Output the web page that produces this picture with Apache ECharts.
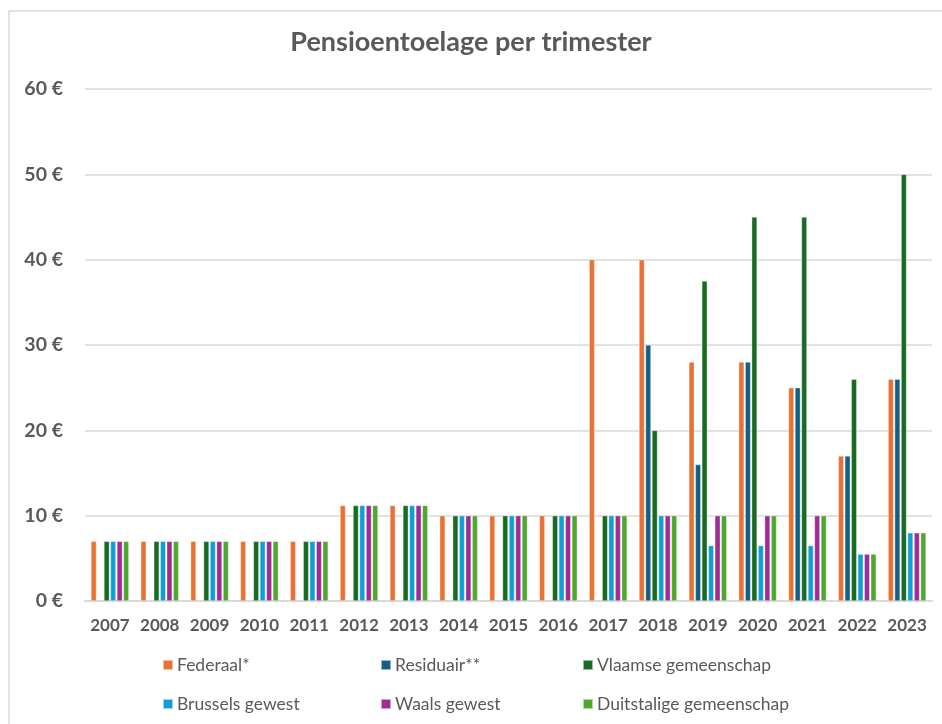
<!DOCTYPE html>
<html>
<head>
<meta charset="utf-8">
<script src="https://cdn.jsdelivr.net/npm/echarts@6/dist/echarts.min.js"></script>
<style>
  html, body { margin: 0; padding: 0; background: #fff; }
  #chart { width: 942px; height: 724px; }
</style>
</head>
<body>
<div id="chart"></div>
<script>
const years = ['2007','2008','2009','2010','2011','2012','2013','2014','2015','2016','2017','2018','2019','2020','2021','2022','2023'];
const federaal   = [7, 7, 7, 7, 7, 11.2, 11.2, 10, 10, 10, 40, 40, 28, 28, 25, 17, 26];
const residuair  = [null, null, null, null, null, null, null, null, null, null, null, 30, 16, 28, 25, 17, 26];
const vlaamse    = [7, 7, 7, 7, 7, 11.2, 11.2, 10, 10, 10, 10, 20, 37.5, 45, 45, 26, 50];
const brussels   = [7, 7, 7, 7, 7, 11.2, 11.2, 10, 10, 10, 10, 10, 6.5, 6.5, 6.5, 5.5, 8];
const waals      = [7, 7, 7, 7, 7, 11.2, 11.2, 10, 10, 10, 10, 10, 10, 10, 10, 5.5, 8];
const duitstalig = [7, 7, 7, 7, 7, 11.2, 11.2, 10, 10, 10, 10, 10, 10, 10, 10, 5.5, 8];
const seriesNames = ['Federaal*', 'Residuair**', 'Vlaamse gemeenschap', 'Brussels gewest', 'Waals gewest', 'Duitstalige gemeenschap'];
const yTicks = [0, 10, 20, 30, 40, 50, 60];

const colors = ['#E97132', '#156082', '#196B24', '#0F9ED5', '#A02B93', '#4EA72E'];
const values = [federaal, residuair, vlaamse, brussels, waals, duitstalig];
const FONT = 'Lato';
const GRAY = '#595959';

const legendPos = [
  { left: 162, top: 656 }, { left: 380, top: 656 }, { left: 582, top: 656 },
  { left: 162, top: 695 }, { left: 380, top: 695 }, { left: 582, top: 695 }
];

const chart = echarts.init(document.getElementById('chart'), null, { renderer: 'canvas' });
chart.setOption({
  backgroundColor: '#ffffff',
  animation: false,
  color: colors,
  title: {
    text: 'Pensioentoelage per trimester',
    left: 'center',
    top: 29,
    padding: 0,
    textStyle: { fontFamily: FONT, fontSize: 27, fontWeight: 'bold', color: GRAY }
  },
  graphic: [{
    type: 'rect',
    shape: { x: 9, y: 11, width: 950, height: 730 },
    style: { fill: 'none', stroke: '#d9d9d9', lineWidth: 1.5 },
    silent: true
  }],
  legend: seriesNames.map((n, i) => ({
    data: [n],
    left: legendPos[i].left,
    top: legendPos[i].top,
    padding: 0,
    itemWidth: 10,
    itemHeight: 10,
    icon: 'rect',
    itemGap: 0,
    selectedMode: false,
    textStyle: { fontFamily: FONT, fontSize: 17.5, color: GRAY, padding: [0, 0, 0, -1] }
  })),
  grid: { left: 85, right: 10, top: 89, bottom: 123, containLabel: false },
  xAxis: {
    type: 'category',
    data: years,
    axisLine: { lineStyle: { color: '#d9d9d9', width: 2 } },
    axisTick: { show: false },
    axisLabel: { interval: 0, fontFamily: FONT, fontSize: 17, fontWeight: 'bold', color: GRAY, margin: 16 }
  },
  yAxis: {
    type: 'value',
    min: yTicks[0],
    max: yTicks[yTicks.length - 1],
    interval: 10,
    axisLine: { show: false },
    axisTick: { show: false },
    splitLine: { lineStyle: { color: '#d9d9d9', width: 1.5 } },
    axisLabel: {
      fontFamily: FONT, fontSize: 19.5, fontWeight: 'bold', color: GRAY, margin: 22,
      formatter: v => v + ' €'
    }
  },
  series: seriesNames.map((n, i) => ({
    name: n,
    type: 'bar',
    data: values[i],
    barWidth: 5.5,
    barGap: '18%',
    itemStyle: { color: colors[i], borderColor: 'rgba(255,255,255,0.55)', borderWidth: 0.6 }
  }))
});
</script>
</body>
</html>
